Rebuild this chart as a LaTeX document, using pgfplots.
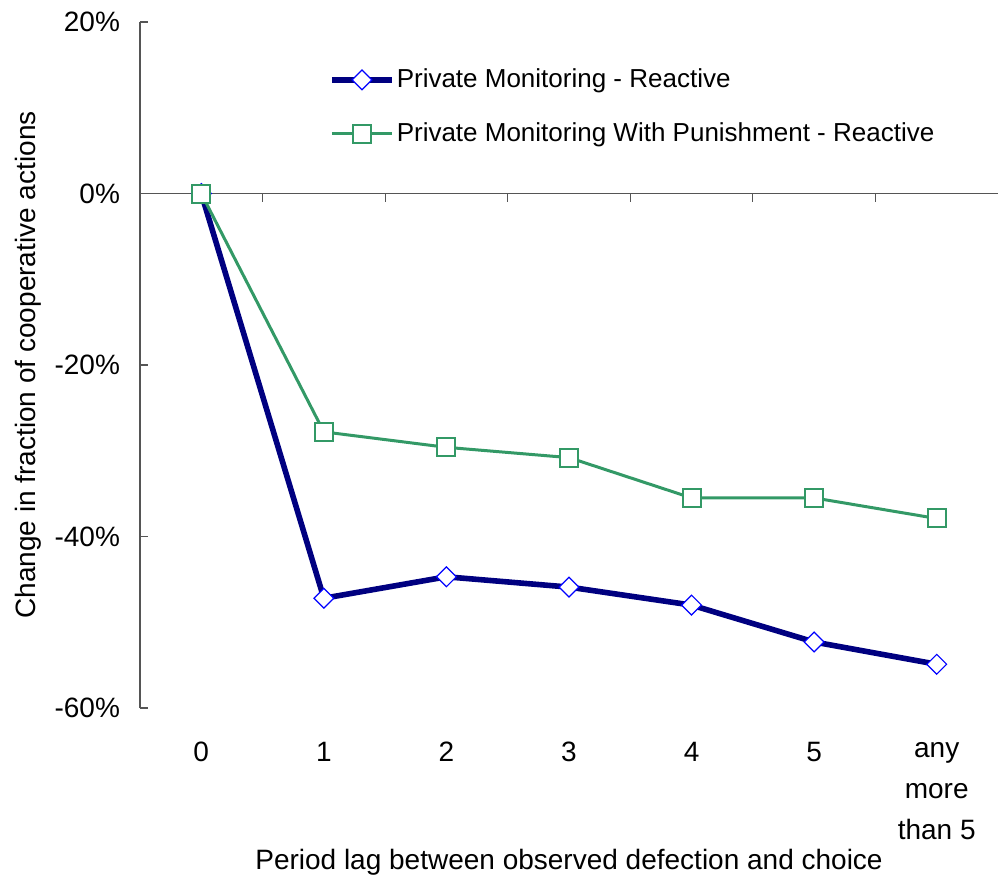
\documentclass[border=0pt]{standalone}
\usepackage{pgfplots}
\pgfplotsset{compat=1.18}
\usepackage{fontspec}
\setmainfont{Liberation Sans}
\definecolor{navyline}{HTML}{000080}
\definecolor{markblue}{HTML}{0000FF}
\definecolor{seagreen}{HTML}{339966}
\definecolor{axisgray}{HTML}{555555}
\begin{document}
\begin{tikzpicture}
\begin{axis}[
  name=ax,
  scale only axis,
  width=429pt, height=343pt,
  xmin=-0.5, xmax=6.5,
  ymin=-60, ymax=20,
  axis x line*=bottom,
  axis y line*=left,
  x axis line style={draw=none},
  y axis line style={draw=axisgray, line width=0.6pt},
  xtick={0,1,2,3,4,5,6},
  xticklabels={0,1,2,3,4,5,{any\\more\\than 5}},
  xtick style={draw=none},
  xticklabel style={align=center, anchor=north, yshift=-13.5pt, font=\fontsize{14}{20.5}\selectfont},
  ytick={-60,-40,-20,0,20},
  yticklabels={-60\%,-40\%,-20\%,0\%,20\%},
  ytick style={draw=axisgray, line width=0.6pt},
  tick align=inside,
  major tick length=4pt,
  yticklabel style={font=\fontsize{14}{17}\selectfont, xshift=-6.5pt},
  xlabel={Period lag between observed defection and choice},
  ylabel={Change in fraction of cooperative actions},
  xlabel style={font=\fontsize{14}{17}\selectfont, yshift=2pt},
  ylabel style={font=\fontsize{14}{17}\selectfont},
  ylabel shift=0pt,
  legend cell align=left,
  legend style={at={(0.220,0.938)}, anchor=north west, draw=none, fill=none, inner sep=0pt,
    row sep=12pt, font=\fontsize{13}{15}\selectfont, nodes={inner xsep=1pt}},
  legend image code/.code={\draw[mark repeat=2,mark phase=2,#1] plot coordinates {(0pt,0pt) (15pt,0pt) (30pt,0pt)};},
  clip=false,
]
\draw[axisgray, line width=0.6pt] (axis cs:-0.5,0) -- (axis cs:6.5,0);
\draw[axisgray, line width=0.6pt] (axis cs:0.5,0) -- ++(0pt,-4pt);
\draw[axisgray, line width=0.6pt] (axis cs:1.5,0) -- ++(0pt,-4pt);
\draw[axisgray, line width=0.6pt] (axis cs:2.5,0) -- ++(0pt,-4pt);
\draw[axisgray, line width=0.6pt] (axis cs:3.5,0) -- ++(0pt,-4pt);
\draw[axisgray, line width=0.6pt] (axis cs:4.5,0) -- ++(0pt,-4pt);
\draw[axisgray, line width=0.6pt] (axis cs:5.5,0) -- ++(0pt,-4pt);
\addplot[navyline, line width=2.8pt, mark=square*, mark size=3.5pt,
  mark options={rotate=45, draw=markblue, fill=white, line width=0.6pt}]
  coordinates {(0,0) (1,-47.2) (2,-44.7) (3,-45.9) (4,-48.0) (5,-52.3) (6,-54.9)};
\addlegendentry{Private Monitoring - Reactive}
\addplot[seagreen, line width=1.5pt, mark=square*, mark size=4.5pt,
  mark options={draw=seagreen, fill=white, line width=1pt}]
  coordinates {(0,0) (1,-27.8) (2,-29.6) (3,-30.8) (4,-35.5) (5,-35.5) (6,-37.9)};
\addlegendentry{Private Monitoring With Punishment - Reactive}
\end{axis}
\pgfresetboundingbox
\path[use as bounding box] ([xshift=-70pt,yshift=-87pt]ax.south west) rectangle ([yshift=11pt]ax.north east);
\end{tikzpicture}
\end{document}
